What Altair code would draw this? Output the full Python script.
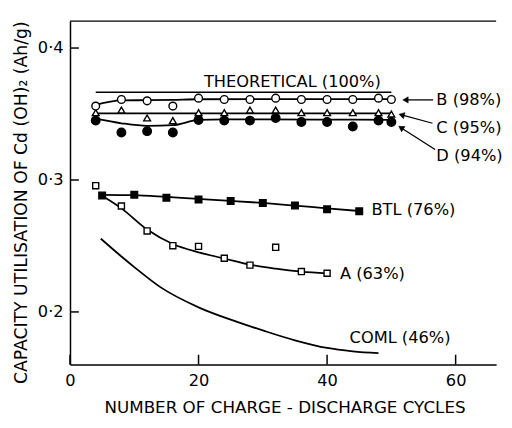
import altair as alt
import pandas as pd

# ---- data ----
cycles = [4, 8, 12, 16, 20, 24, 28, 32, 36, 40, 44, 48, 50]
b_vals = [0.356, 0.361, 0.360, 0.356, 0.362, 0.361, 0.361, 0.362, 0.361, 0.361, 0.361, 0.362, 0.361]
c_vals = [0.351, 0.353, 0.347, 0.345, 0.351, 0.351, 0.353, 0.353, 0.351, 0.351, 0.351, 0.351, 0.350]
d_vals = [0.345, 0.336, 0.337, 0.336, 0.3455, 0.345, 0.345, 0.347, 0.344, 0.344, 0.3405, 0.345, 0.344]

b_fit_x = [4, 8, 12, 16, 20, 30, 40, 50]
b_fit = [0.357, 0.3603, 0.3605, 0.3608, 0.3612, 0.3613, 0.3613, 0.3613]
c_fit_x = [4, 50]
c_fit = [0.3505, 0.3505]
d_fit_x = [4, 8, 12, 16, 20, 24, 30, 40, 50]
d_fit = [0.3465, 0.343, 0.341, 0.3415, 0.3455, 0.346, 0.346, 0.3458, 0.3455]

theo_x = [4, 50]
theo_y = [0.3665, 0.3665]

btl_x = [5, 10, 15, 20, 25, 30, 35, 40, 45]
btl_vals = [0.2883, 0.2888, 0.2866, 0.2853, 0.2840, 0.2825, 0.2806, 0.2778, 0.2763]
btl_fit = [0.2888, 0.2885, 0.2872, 0.2857, 0.2842, 0.2826, 0.2806, 0.2785, 0.2765]

a_x = [4, 8, 12, 16, 20, 24, 28, 32, 36, 40]
a_vals = [0.2957, 0.2803, 0.2614, 0.2502, 0.2497, 0.2407, 0.2355, 0.2490, 0.2306, 0.2293]
a_fit_x = [5.5, 8, 12, 16, 20, 24, 28, 32, 36, 40]
a_fit = [0.2865, 0.2785, 0.2625, 0.2515, 0.2452, 0.2405, 0.2358, 0.2328, 0.2306, 0.2293]

coml_x = [4.8, 8, 10, 14, 20, 26, 30, 35, 40, 44, 48]
coml_vals = [0.2555, 0.242, 0.234, 0.219, 0.2035, 0.1925, 0.186, 0.1785, 0.1727, 0.1702, 0.1688]

label_text = ["THEORETICAL (100%)", "B (98%)", "C (95%)", "D (94%)", "BTL (76%)", "A (63%)", "COML (46%)"]
label_x = [34.6, 57.0, 57.0, 57.0, 46.9, 42.0, 43.5]
label_y = [0.374, 0.3607, 0.3393, 0.3181, 0.2771, 0.2286, 0.1801]
label_align = ["center", "left", "left", "left", "left", "left", "left"]

arrow_x = [52.2, 51.6, 51.5]
arrow_y = [0.3607, 0.3493, 0.3396]
arrow_x2 = [56.5, 56.4, 56.8]
arrow_y2 = [0.3607, 0.3430, 0.3231]
arrow_angle = [270, 285, 303]

x_ticks = [0, 20, 40, 60]
y_ticks = [0.2, 0.3, 0.4]

# ---- chart ----
FONT = "DejaVu Sans"
W, H = 433, 349
xs = alt.Scale(domain=[0, 66.3], nice=False, zero=False)
ys = alt.Scale(domain=[0.1601, 0.4204], nice=False, zero=False)

x_axis = alt.Axis(values=x_ticks, ticks=False, tickSize=0, labelPadding=8, labelFlush=False,
                  labelFont=FONT, labelFontSize=16.5, labelColor="black",
                  domainColor="black", domainWidth=1.5, grid=False,
                  title="NUMBER OF CHARGE - DISCHARGE CYCLES", titleFont=FONT, titleFontSize=17,
                  titleFontWeight="normal", titleColor="black", titleX=218, titleY=44,
                  titleBaseline="middle", titleAlign="center")
y_axis = alt.Axis(values=y_ticks, ticks=False, tickSize=0, labelPadding=7, labelFlush=False,
                  labelExpr="replace(format(datum.value, '.1f'), '.', '·')",
                  labelFont=FONT, labelFontSize=16.5, labelColor="black",
                  domainColor="black", domainWidth=1.5, grid=False,
                  title="CAPACITY UTILISATION OF Cd (OH)₂  (Ah/g)", titleFont=FONT, titleFontSize=17.5,
                  titleFontWeight="normal", titleColor="black", titleX=-49, titleY=184,
                  titleAngle=270, titleBaseline="middle", titleAlign="center")


def X(field):
    return alt.X(f"{field}:Q", scale=xs, axis=x_axis)


def Y(field):
    return alt.Y(f"{field}:Q", scale=ys, axis=y_axis)


def line_layer(xv, yv, interp="monotone", width=1.8):
    df = pd.DataFrame({"x": xv, "y": yv})
    return alt.Chart(df).mark_line(color="black", strokeWidth=width, interpolate=interp).encode(
        x=X("x"), y=Y("y"))


def point_layer(xv, yv, shape, fill, size, sw=1.4):
    df = pd.DataFrame({"x": xv, "y": yv})
    return alt.Chart(df).mark_point(shape=shape, filled=True, fill=fill, stroke="black",
                                    strokeWidth=sw, size=size, opacity=1).encode(
        x=X("x"), y=Y("y"))


layers = [
    line_layer(coml_x, coml_vals),
    line_layer(theo_x, theo_y, interp="linear", width=1.6),
    line_layer(b_fit_x, b_fit),
    line_layer(c_fit_x, c_fit, interp="linear"),
    line_layer(d_fit_x, d_fit),
    line_layer(btl_x, btl_fit),
    line_layer(a_fit_x, a_fit),
    point_layer(cycles, d_vals, "circle", "black", 75),
    point_layer(cycles, c_vals, "triangle-up", "white", 48),
    point_layer(cycles, b_vals, "circle", "white", 62),
    point_layer(btl_x, btl_vals, "square", "black", 45),
    point_layer(a_x, a_vals, "square", "white", 38),
]

# top frame line
layers.append(alt.Chart(pd.DataFrame({"v": [0]})).mark_rule(color="black", strokeWidth=1.5).encode(
    x=alt.value(0), x2=alt.value(W), y=alt.value(0)))

# inward ticks
layers.append(alt.Chart(pd.DataFrame({"x": x_ticks})).mark_rule(color="black", strokeWidth=1.5).encode(
    x=X("x"), y=alt.value(H), y2=alt.value(H - 10)))
layers.append(alt.Chart(pd.DataFrame({"y": y_ticks})).mark_rule(color="black", strokeWidth=1.5).encode(
    y=Y("y"), x=alt.value(0), x2=alt.value(9)))

# arrows
arr = pd.DataFrame({"x": arrow_x, "y": arrow_y, "x2": arrow_x2, "y2": arrow_y2, "a": arrow_angle})
layers.append(alt.Chart(arr).mark_rule(color="black", strokeWidth=1.3).encode(
    x=X("x"), y=Y("y"), x2="x2:Q", y2="y2:Q"))
layers.append(alt.Chart(arr).mark_point(shape="triangle-up", filled=True, fill="black", stroke="black",
                                        strokeWidth=0.5, size=40, opacity=1).encode(
    x=X("x"), y=Y("y"), angle=alt.Angle("a:Q", scale=None)))

# labels
lab = pd.DataFrame({"t": label_text, "x": label_x, "y": label_y, "al": label_align})
for al in ["center", "left"]:
    layers.append(alt.Chart(lab[lab["al"] == al]).mark_text(
        font=FONT, fontSize=16.5, color="black", align=al, baseline="middle").encode(
        x=X("x"), y=Y("y"), text="t:N"))

chart = alt.layer(*layers).properties(
    width=W, height=H,
    autosize=alt.AutoSizeParams(type="none"),
    padding={"left": 63, "top": 10, "right": 8, "bottom": 55},
).configure_view(stroke=None)

chart.save("out.html", embed_options={"renderer": "svg", "actions": False})
